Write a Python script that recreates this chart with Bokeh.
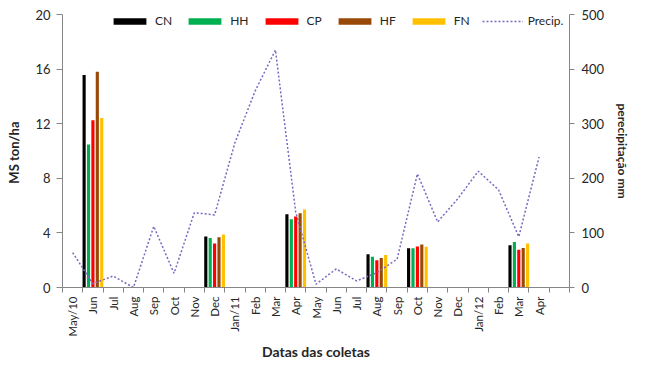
import math
from bokeh.plotting import figure
from bokeh.models import (Range1d, LinearAxis, FixedTicker, Legend, LegendItem,
                          ColumnDataSource)
from bokeh.embed import file_html
from bokeh.resources import INLINE

# ---- data ----
months = ["May/10", "Jun", "Jul", "Aug", "Sep", "Oct", "Nov", "Dec", "Jan/11", "Feb",
          "Mar", "Apr", "May", "Jun", "Jul", "Aug", "Sep", "Oct", "Nov", "Dec",
          "Jan/12", "Feb", "Mar", "Apr", ""]
collection_idx = [1, 7, 11, 15, 17, 22]
CN = [15.56, 3.73, 5.37, 2.44, 2.88, 3.10]
HH = [10.48, 3.62, 5.00, 2.25, 2.88, 3.34]
CP = [12.25, 3.22, 5.21, 2.00, 3.01, 2.76]
HF = [15.81, 3.69, 5.44, 2.16, 3.15, 2.90]
FN = [12.42, 3.89, 5.72, 2.39, 2.99, 3.22]
precip = [64, 7, 21, 0, 112, 26, 137, 133, 265, 360, 435, 138,
          6, 34, 12, 27, 52, 208, 120, 163, 213, 179, 93, 239]

series_names = ["CN", "HH", "CP", "HF", "FN"]
series_vals = [CN, HH, CP, HF, FN]
series_colors = ["#000000", "#00B050", "#FF0000", "#984807", "#FFC000"]
precip_color = "#7B68C0"

FONT = "Lato"
TXT = "#262626"
AX = "#868686"

n = len(months)
W, H = 633, 362
BL, BR, BT, BB = 62, 58, 14, 71
p = figure(width=W, height=H, output_backend="svg", toolbar_location=None,
           x_range=Range1d(-0.5, n - 0.5), y_range=Range1d(0, 20),
           min_border_left=BL, min_border_right=BR, min_border_top=BT,
           min_border_bottom=BB)
p.outline_line_color = None
p.grid.grid_line_color = None
p.background_fill_color = "white"
p.border_fill_color = "white"

p.extra_y_ranges = {"precip": Range1d(0, 500)}

pitch = 0.217
bw = 0.155
renderers = []
for k, (name, vals, col) in enumerate(zip(series_names, series_vals, series_colors)):
    xs = [i + (k - 2) * pitch for i in collection_idx]
    src = ColumnDataSource(dict(x=xs, top=vals))
    r = p.vbar(x="x", top="top", bottom=0, width=bw, source=src,
               fill_color=col, line_color=None)
    renderers.append((name, r))

psrc = ColumnDataSource(dict(x=list(range(len(precip))), y=precip))
lr = p.line(x="x", y="y", source=psrc, y_range_name="precip",
            line_color=precip_color, line_width=1.5, line_dash="2 2")
renderers.append(("Precip.", lr))

# x axis
xa = p.xaxis[0]
xa.ticker = FixedTicker(ticks=list(range(n)),
                        minor_ticks=[i - 0.5 for i in range(n + 1)])
xa.major_label_overrides = {i: m for i, m in enumerate(months)}
xa.major_label_orientation = math.pi / 2
xa.major_tick_line_color = None
xa.major_tick_out = 5
xa.major_tick_in = 0
xa.minor_tick_out = 5
xa.minor_tick_in = 0
xa.minor_tick_line_color = AX
xa.axis_line_color = AX
xa.major_label_standoff = 4
xa.major_label_text_font = FONT
xa.major_label_text_font_size = "11.5px"
xa.major_label_text_color = TXT
xa.axis_label = "Datas das coletas"
xa.axis_label_text_font = FONT
xa.axis_label_text_font_style = "bold"
xa.axis_label_text_font_size = "14px"
xa.axis_label_text_color = TXT
xa.axis_label_standoff = 3

# left axis
ya = p.yaxis[0]
ya.ticker = FixedTicker(ticks=[0, 4, 8, 12, 16, 20])
ya.minor_tick_line_color = None
ya.major_tick_out = 6
ya.major_tick_in = 0
ya.major_tick_line_color = AX
ya.axis_line_color = AX
ya.major_label_standoff = 6
ya.major_label_text_font = FONT
ya.major_label_text_font_size = "13px"
ya.major_label_text_color = TXT
ya.axis_label = "MS  ton/ha"
ya.axis_label_text_font = FONT
ya.axis_label_text_font_style = "bold"
ya.axis_label_text_font_size = "13px"
ya.axis_label_text_color = TXT
ya.axis_label_standoff = 10

# right axis
ra = LinearAxis(y_range_name="precip", ticker=FixedTicker(ticks=[0, 100, 200, 300, 400, 500]))
ra.minor_tick_line_color = None
ra.major_tick_out = 5
ra.major_tick_in = 0
ra.major_tick_line_color = AX
ra.axis_line_color = AX
ra.major_label_standoff = 7
ra.major_label_text_font = FONT
ra.major_label_text_font_size = "13px"
ra.major_label_text_color = TXT
ra.axis_label = "perecipitação mm"
ra.axis_label_text_font = FONT
ra.axis_label_text_font_style = "bold"
ra.axis_label_text_font_size = "12px"
ra.axis_label_text_color = TXT
ra.axis_label_standoff = 8
p.add_layout(ra, "right")

frame_h = H - BT - BB
legend = Legend(items=[LegendItem(label=nm, renderers=[r]) for nm, r in renderers],
                orientation="horizontal", location=(47, frame_h - 18),
                glyph_width=41, glyph_height=8, label_height=15,
                label_standoff=5, spacing=12,
                label_width=10, padding=0, margin=0,
                border_line_color=None, background_fill_alpha=0,
                label_text_font=FONT, label_text_font_size="12px",
                label_text_color=TXT)
p.add_layout(legend)

open("out.html", "w").write(file_html(p, INLINE))
